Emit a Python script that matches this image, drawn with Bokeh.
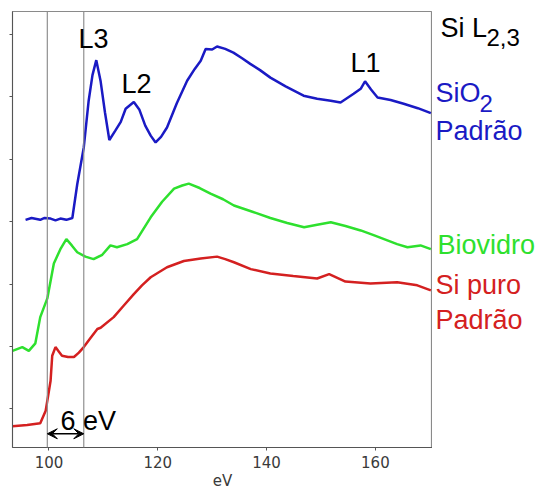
from bokeh.plotting import figure
from bokeh.layouts import row
from bokeh.models import Range1d, Label, Span, Arrow, VeeHead, FixedTicker
from bokeh.embed import file_html
from bokeh.resources import INLINE

# SiO2 Padrão (blue)
sio2_ev = [95.7, 96.8, 98.4, 99.2, 100.3, 101.2, 102.1, 103.2, 104.3, 105.2, 106.4, 107.3, 108.0, 108.7,
           109.5, 110.3, 111.1, 112.2, 113.2, 114.1, 115.6, 116.6, 117.7, 118.7, 119.6, 120.6, 121.7,
           123.5, 125.4, 126.8, 127.9, 128.8, 130.0, 130.9, 132.4, 133.9, 135.5, 137.0, 138.8, 140.7,
           143.5, 146.8, 149.3, 151.8, 153.6, 156.0, 157.3, 158.1, 159.2, 160.4, 162.8, 165.2, 167.8, 170.2]
sio2_y = [3.03, 3.06, 3.03, 3.06, 3.05, 3.02, 3.05, 3.03, 3.06, 3.60, 4.19, 4.94, 5.35, 5.59,
          5.25, 4.75, 4.31, 4.46, 4.60, 4.81, 4.92, 4.80, 4.54, 4.38, 4.27, 4.36, 4.51,
          4.90, 5.26, 5.45, 5.58, 5.77, 5.76, 5.81, 5.77, 5.71, 5.62, 5.53, 5.43, 5.31,
          5.17, 5.02, 4.97, 4.94, 4.91, 5.05, 5.13, 5.25, 5.12, 4.99, 4.95, 4.89, 4.82, 4.74]

# Biovidro (green)
bio_ev = [93.3, 95.1, 96.3, 97.5, 98.4, 99.7, 100.9, 102.1, 103.2, 104.2, 105.2, 106.7, 108.2, 109.8,
          111.3, 112.5, 114.4, 116.2, 118.7, 120.8, 123.0, 124.5, 125.7, 127.7, 129.7, 132.0, 134.0,
          137.4, 140.7, 143.8, 146.9, 149.3, 151.8, 154.5, 157.3, 159.8, 162.2, 164.0, 165.9, 168.3, 170.2]
bio_y = [0.93, 0.99, 0.93, 1.05, 1.47, 1.77, 2.33, 2.56, 2.72, 2.62, 2.51, 2.44, 2.40, 2.47,
         2.62, 2.59, 2.64, 2.72, 3.07, 3.32, 3.53, 3.58, 3.61, 3.54, 3.45, 3.36, 3.26,
         3.16, 3.06, 2.98, 2.91, 2.95, 2.99, 2.93, 2.86, 2.78, 2.70, 2.64, 2.59, 2.62, 2.56]

# Si puro Padrão (red)
si_ev = [93.3, 96.0, 98.4, 99.4, 100.3, 100.6, 101.2, 101.8, 102.4, 103.5, 104.6, 105.5, 106.4, 107.6,
         108.9, 109.5, 111.9, 113.8, 115.6, 117.1, 118.7, 121.7, 124.8, 127.9, 130.9, 132.4, 134.0,
         137.1, 140.7, 144.9, 149.3, 151.5, 154.5, 159.1, 164.0, 167.7, 170.2]
si_y = [-0.28, -0.26, -0.23, -0.03, 0.45, 0.85, 0.99, 0.92, 0.85, 0.83, 0.83, 0.90, 0.99, 1.13,
        1.28, 1.30, 1.47, 1.66, 1.84, 1.98, 2.11, 2.27, 2.37, 2.41, 2.44, 2.40, 2.35,
        2.24, 2.17, 2.13, 2.09, 2.16, 2.04, 2.01, 2.03, 1.98, 1.90]

x_ticks = [100, 120, 140, 160]
y_ticks = [0, 1, 2, 3, 4, 5, 6]
edge_lines = [99.7, 106.4]

BLUE = "#1a1ac4"
GREEN = "#2ee02e"
RED = "#d42020"
FONT = "Liberation Sans"

yr = Range1d(-0.62, 6.37)

p = figure(frame_width=420, frame_height=436, output_backend="svg", toolbar_location=None,
           x_range=Range1d(93.3, 170.5), y_range=yr)
p.min_border_left = 12
p.min_border_right = 0
p.min_border_top = 11
p.min_border_bottom = 46
p.grid.visible = False
p.outline_line_color = "#8a8a8a"
p.outline_line_width = 1.2

p.xaxis.ticker = FixedTicker(ticks=x_ticks)
p.xaxis.minor_tick_line_color = None
p.xaxis.major_tick_in = 0
p.xaxis.major_tick_out = 3
p.xaxis.axis_line_color = "#555555"
p.xaxis.major_tick_line_color = "#555555"
p.xaxis.major_label_text_font = "DejaVu Sans"
p.xaxis.major_label_text_font_size = "15px"
p.xaxis.major_label_text_color = "#3a3a3a"
p.xaxis.major_label_standoff = 5
p.xaxis.axis_label = "eV"
p.xaxis.axis_label_text_font = "DejaVu Sans"
p.xaxis.axis_label_text_font_size = "15px"
p.xaxis.axis_label_text_font_style = "normal"
p.xaxis.axis_label_text_color = "#3a3a3a"
p.xaxis.axis_label_standoff = 1

p.yaxis.ticker = FixedTicker(ticks=y_ticks)
p.yaxis.minor_tick_line_color = None
p.yaxis.major_tick_in = 0
p.yaxis.major_tick_out = 3
p.yaxis.axis_line_color = "#555555"
p.yaxis.major_tick_line_color = "#555555"
p.yaxis.major_label_overrides = {t: "" for t in y_ticks}
p.yaxis.major_label_standoff = 0

for xv in edge_lines:
    p.add_layout(Span(location=xv, dimension="height", line_color="#909090", line_width=1.2))

p.line(sio2_ev, sio2_y, line_color=BLUE, line_width=2.5)
p.line(bio_ev, bio_y, line_color=GREEN, line_width=2.5)
p.line(si_ev, si_y, line_color=RED, line_width=2.5)

p.add_layout(Arrow(x_start=edge_lines[0], x_end=edge_lines[1], y_start=-0.40, y_end=-0.40,
                   line_color="black", line_width=1.5,
                   start=VeeHead(size=10, fill_color="black", line_color="black"),
                   end=VeeHead(size=10, fill_color="black", line_color="black")))


def lab(fig, x, y, text, color="black", size="27px", align="left"):
    fig.add_layout(Label(x=x, y=y, text=text, text_color=color, text_font=FONT,
                         text_font_size=size, text_align=align, text_baseline="middle"))


lab(p, 108.2, 5.93, "L3", align="center")
lab(p, 116.1, 5.21, "L2", align="center")
lab(p, 158.2, 5.55, "L1", align="center")
lab(p, 102.1, -0.19, "6 eV")

# right-hand label panel sharing the y scale
q = figure(frame_width=107, frame_height=436, output_backend="svg", toolbar_location=None,
           x_range=Range1d(0, 107), y_range=yr, x_axis_type=None, y_axis_type=None)
q.min_border_left = 0
q.min_border_right = 0
q.min_border_top = 11
q.min_border_bottom = 46
q.grid.visible = False
q.outline_line_color = None

lab(q, 8, 6.11, "Si L")
lab(q, 54, 5.96, "2,3", size="24px")
lab(q, 3, 5.06, "SiO", color=BLUE)
lab(q, 47, 4.90, "2", color=BLUE, size="24px")
lab(q, 3, 4.46, "Padrão", color=BLUE)
lab(q, 5, 2.62, "Biovidro", color=GREEN)
lab(q, 3, 1.99, "Si puro", color=RED)
lab(q, 3, 1.43, "Padrão", color=RED)

layout = row(p, q, spacing=0)
open("out.html", "w").write(file_html(layout, INLINE))
